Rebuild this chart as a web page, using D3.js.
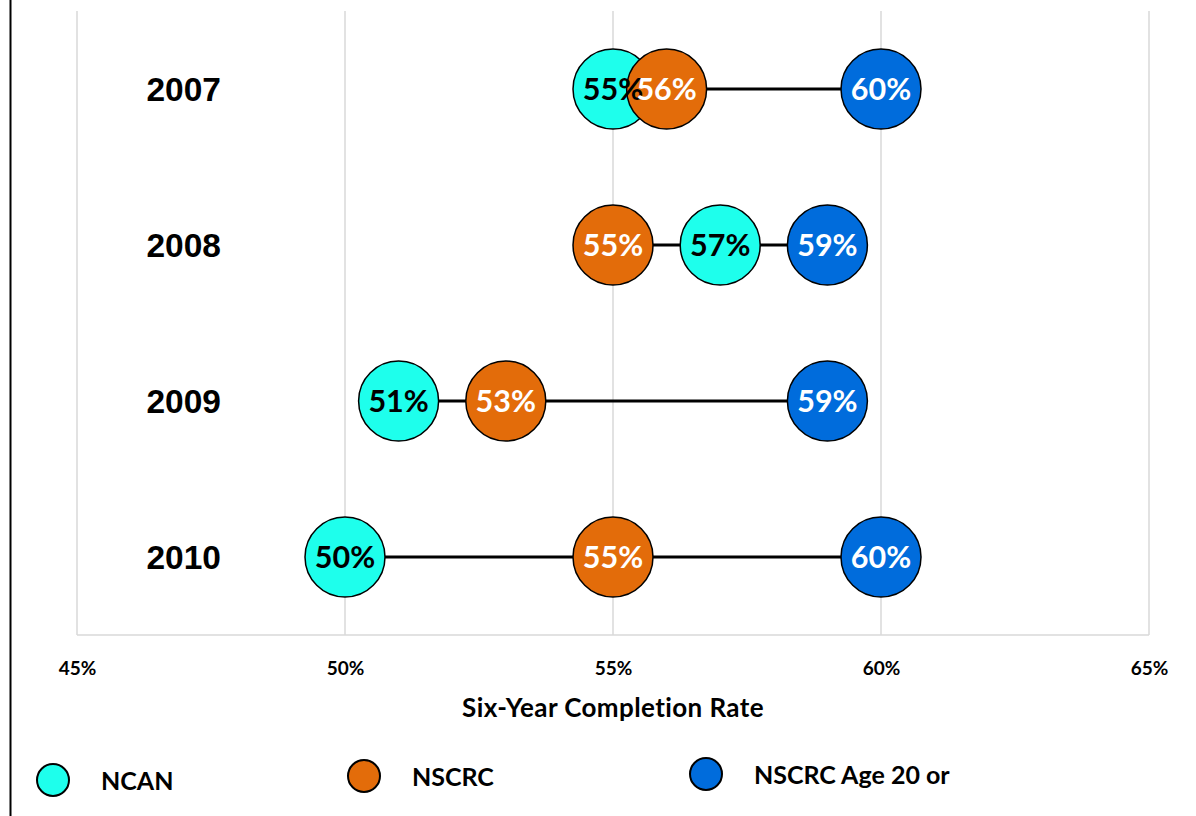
<!DOCTYPE html>
<html><head><meta charset="utf-8">
<script src="https://cdn.jsdelivr.net/npm/d3@7"></script>
<style>body{margin:0;background:#fff}svg{display:block}</style>
</head><body>
<svg id="c" width="1196" height="816"></svg>
<script>
const years = ["2007","2008","2009","2010"];
const seriesNames = ["NCAN","NSCRC","NSCRC Age 20 or"];
const ncan = [55,57,51,50];
const nscrc = [56,55,53,55];
const nscrcAge20 = [60,59,59,60];
const xTicks = [45,50,55,60,65];
const colors = ["#1EFFEC","#E36C0A","#006CDC"];
const labelColors = ["#000","#fff","#fff"];
const seriesData = [ncan, nscrc, nscrcAge20];

const svg = d3.select("#c");
const x = d3.scaleLinear().domain([45,65]).range([77,1149]);
const y = d3.scaleBand().domain(years).range([11,635]);
const yc = d => y(d) + y.bandwidth()/2;
const font = "Lato, 'Open Sans', sans-serif";

// left border
svg.append("line").attr("x1",10.5).attr("x2",10.5).attr("y1",0).attr("y2",816).attr("stroke","#000").attr("stroke-width",2);

// gridlines
svg.append("g").selectAll("line").data(xTicks).join("line")
  .attr("x1",d=>x(d)).attr("x2",d=>x(d)).attr("y1",11).attr("y2",635)
  .attr("stroke","#d9d9d9").attr("stroke-width",1.5);
svg.append("line").attr("x1",77).attr("x2",1149).attr("y1",635).attr("y2",635).attr("stroke","#d9d9d9").attr("stroke-width",1.5);

// x tick labels
const xa = svg.append("g").attr("transform","translate(0,672)")
  .call(d3.axisBottom(x).tickValues(xTicks).tickSize(0).tickFormat(d=>d+"%"));
xa.select(".domain").remove();
xa.selectAll("text").attr("font-family",font).attr("font-weight","bold").attr("font-size",19).attr("fill","#000").attr("dy","0");

svg.append("text").attr("x",613).attr("y",717).attr("text-anchor","middle")
  .attr("font-family",font).attr("font-weight","bold").attr("font-size",26).attr("letter-spacing",0.4).text("Six-Year Completion Rate");

// year labels
svg.append("g").selectAll("text").data(years).join("text")
  .attr("x",221).attr("y",d=>yc(d)+12).attr("text-anchor","end")
  .attr("font-family","'Liberation Sans', Arial, sans-serif").attr("font-weight","bold").attr("font-size",33.5).text(d=>d);

// range lines
svg.append("g").selectAll("line").data(years).join("line")
  .attr("x1",(d,i)=>x(d3.min(seriesData,s=>s[i]))).attr("x2",(d,i)=>x(d3.max(seriesData,s=>s[i])))
  .attr("y1",d=>yc(d)).attr("y2",d=>yc(d)).attr("stroke","#000").attr("stroke-width",3);

// circles
seriesData.forEach((s,k)=>{
  svg.append("g").selectAll("circle").data(years).join("circle")
    .attr("cx",(d,i)=>x(s[i])).attr("cy",d=>yc(d)).attr("r",40)
    .attr("fill",colors[k]).attr("stroke","#000").attr("stroke-width",1.5);
});
// labels
seriesData.forEach((s,k)=>{
  svg.append("g").selectAll("text").data(years).join("text")
    .attr("x",(d,i)=>x(s[i])).attr("y",d=>yc(d)+11).attr("text-anchor","middle")
    .attr("font-family",font).attr("font-weight","bold").attr("font-size",30.5)
    .attr("fill",labelColors[k]).text((d,i)=>s[i]+"%");
});

// legend
const legX = [53,364,706];
const legY = [780,776,774];
const lg = svg.append("g");
seriesNames.forEach((n,k)=>{
  lg.append("circle").attr("cx",legX[k]).attr("cy",legY[k]).attr("r",16)
    .attr("fill",colors[k]).attr("stroke","#000").attr("stroke-width",2);
  lg.append("text").attr("x",legX[k]+48).attr("y",legY[k]+10)
    .attr("font-family",font).attr("font-weight","bold").attr("font-size",25).text(n);
});
</script>
</body></html>
